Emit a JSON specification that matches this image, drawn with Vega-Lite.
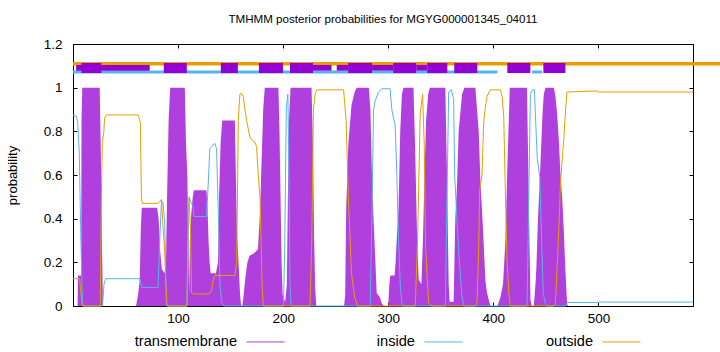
{
  "$schema": "https://vega.github.io/schema/vega-lite/v6.json",
  "width": 620,
  "height": 262,
  "autosize": "none",
  "padding": {"left": 73, "top": 44, "right": 27, "bottom": 46},
  "background": "white",
  "config": {
    "view": {"stroke": "black", "strokeWidth": 1},
    "font": "Liberation Sans",
    "axis": {"grid": false, "domain": false, "tickColor": "black", "tickSize": -4, "labelColor": "black", "labelFont": "Liberation Sans", "labelFontSize": 13.5, "titleFont": "Liberation Sans", "titleFontWeight": "normal", "titleColor": "black", "titleFontSize": 13}
  },
  "title": {"text": "TMHMM posterior probabilities for MGYG000001345_04011", "font": "Liberation Sans", "fontSize": 11.6, "fontWeight": "normal", "color": "black", "offset": 11, "anchor": "middle"},
  "datasets": {
    "tm": [
      {"x":0,"p":0},{"x":4.4,"p":0},{"x":4.7,"p":0.14},{"x":7.8,"p":0.14},{"x":8.1,"p":0.85},{"x":8.8,"p":1.0},{"x":25.4,"p":1.0},{"x":26.5,"p":0.7},{"x":27.5,"p":0.3},{"x":28.5,"p":0},
      {"x":60,"p":0},{"x":61.9,"p":0.05},{"x":63.5,"p":0.12},{"x":64.5,"p":0.35},{"x":65.4,"p":0.45},{"x":80,"p":0.45},{"x":81.5,"p":0.4},{"x":83,"p":0.25},{"x":84.5,"p":0.17},{"x":87,"p":0.15},{"x":88.5,"p":0.2},{"x":89.5,"p":0.5},{"x":91,"p":0.85},{"x":92.5,"p":1.0},{"x":106.4,"p":1.0},{"x":107.5,"p":0.75},{"x":108.8,"p":0.6},{"x":109.8,"p":0.3},{"x":110.5,"p":0.05},{"x":111.2,"p":0.3},{"x":112.5,"p":0.42},{"x":114,"p":0.5},{"x":115,"p":0.53},{"x":127,"p":0.53},{"x":128,"p":0.45},{"x":129,"p":0.3},{"x":130,"p":0.2},{"x":131,"p":0.15},{"x":136,"p":0.15},{"x":138,"p":0.2},{"x":139,"p":0.5},{"x":140.5,"p":0.75},{"x":142,"p":0.85},{"x":154,"p":0.85},{"x":155,"p":0.6},{"x":156,"p":0.35},{"x":157.5,"p":0.2},{"x":159,"p":0.05},{"x":160,"p":0},
      {"x":161,"p":0},{"x":162,"p":0.03},{"x":163,"p":0.08},{"x":164.5,"p":0.15},{"x":166,"p":0.2},{"x":168,"p":0.23},{"x":172,"p":0.24},{"x":176,"p":0.26},{"x":178,"p":0.43},{"x":179.5,"p":0.67},{"x":181,"p":0.9},{"x":182.5,"p":1.0},{"x":195.5,"p":1.0},{"x":196.5,"p":0.8},{"x":197.5,"p":0.5},{"x":198.5,"p":0.2},{"x":199.5,"p":0.05},{"x":202,"p":0.02},{"x":203.5,"p":0.1},{"x":204.5,"p":0.5},{"x":205.5,"p":0.85},{"x":207,"p":1.0},{"x":227,"p":1.0},{"x":228.5,"p":0.7},{"x":229.5,"p":0.3},{"x":230.5,"p":0.08},{"x":231.5,"p":0},
      {"x":258,"p":0},{"x":259,"p":0.05},{"x":260,"p":0.45},{"x":262,"p":0.74},{"x":265,"p":0.92},{"x":268,"p":0.98},{"x":270,"p":1.0},{"x":281.5,"p":1.0},{"x":283,"p":0.9},{"x":284.5,"p":0.6},{"x":286,"p":0.4},{"x":287.5,"p":0.23},{"x":289,"p":0.06},{"x":292,"p":0.04},{"x":294,"p":0.01},{"x":296,"p":0},
      {"x":300,"p":0},{"x":301,"p":0.1},{"x":302,"p":0.14},{"x":306,"p":0.14},{"x":307,"p":0.2},{"x":308,"p":0.3},{"x":309.8,"p":0.45},{"x":311.4,"p":0.8},{"x":313,"p":0.97},{"x":314.5,"p":1.0},{"x":324,"p":1.0},{"x":325.7,"p":0.7},{"x":327.5,"p":0.3},{"x":329,"p":0.12},{"x":331.5,"p":0.1},{"x":333,"p":0.3},{"x":334.5,"p":0.6},{"x":336,"p":0.85},{"x":338,"p":0.97},{"x":339.5,"p":1.0},{"x":354.3,"p":1.0},{"x":355.9,"p":0.6},{"x":357.5,"p":0.1},{"x":358.4,"p":0.02},{"x":362.2,"p":0.02},{"x":363.8,"p":0.4},{"x":365.4,"p":0.55},{"x":367,"p":0.8},{"x":370.2,"p":0.97},{"x":372.4,"p":1.0},{"x":382.9,"p":1.0},{"x":384.5,"p":0.9},{"x":386.1,"p":0.8},{"x":387.6,"p":0.58},{"x":390.2,"p":0.35},{"x":392.4,"p":0.12},{"x":394,"p":0.06},{"x":397.2,"p":0},
      {"x":404,"p":0},{"x":406.7,"p":0.04},{"x":409.2,"p":0.1},{"x":411.5,"p":0.3},{"x":413.1,"p":0.6},{"x":414.7,"p":0.85},{"x":415.6,"p":1.0},{"x":432,"p":1.0},{"x":433.7,"p":0.5},{"x":435.3,"p":0.03},{"x":436.5,"p":0},
      {"x":438.5,"p":0},{"x":440.1,"p":0.1},{"x":441,"p":0.18},{"x":442.3,"p":0.38},{"x":444.2,"p":0.58},{"x":445.5,"p":0.73},{"x":446.8,"p":0.88},{"x":448,"p":0.97},{"x":449.6,"p":1.0},{"x":457.6,"p":1.0},{"x":459.1,"p":0.96},{"x":460.7,"p":0.88},{"x":462.3,"p":0.76},{"x":463.9,"p":0.6},{"x":465.5,"p":0.5},{"x":467,"p":0.35},{"x":468.6,"p":0.16},{"x":470.2,"p":0.01},{"x":471,"p":0},{"x":590,"p":0}
    ],
    "inside": [
      {"x":0,"p":0.875},{"x":3,"p":0.87},{"x":4.5,"p":0.84},{"x":6,"p":0.7},{"x":7.5,"p":0.3},{"x":9,"p":0.02},{"x":10,"p":0},{"x":28,"p":0},{"x":29.5,"p":0.1},{"x":31,"p":0.125},{"x":63.5,"p":0.125},{"x":65.5,"p":0.085},{"x":81,"p":0.085},{"x":82.5,"p":0.3},{"x":84.2,"p":0.48},{"x":85.7,"p":0.475},{"x":87.3,"p":0.38},{"x":88.9,"p":0},
      {"x":108.2,"p":0},{"x":110.5,"p":0.5},{"x":111.8,"p":0.48},{"x":114.3,"p":0.455},{"x":115,"p":0.41},{"x":127,"p":0.41},{"x":128.6,"p":0.55},{"x":130.2,"p":0.72},{"x":131.8,"p":0.73},{"x":135,"p":0.745},{"x":136.6,"p":0.72},{"x":138.2,"p":0.45},{"x":139.8,"p":0.1},{"x":141.4,"p":0.02},{"x":143,"p":0},
      {"x":200.2,"p":0},{"x":201.5,"p":0.27},{"x":203,"p":0.91},{"x":204.5,"p":0.97},{"x":205.5,"p":0.6},{"x":206.5,"p":0.1},{"x":207.5,"p":0},
      {"x":282.8,"p":0},{"x":284.4,"p":0.4},{"x":286,"p":0.9},{"x":287.6,"p":0.94},{"x":290.8,"p":0.98},{"x":294,"p":0.995},{"x":301.8,"p":0.995},{"x":303.4,"p":0.9},{"x":305,"p":0.86},{"x":306.6,"p":0.83},{"x":308.2,"p":0.6},{"x":309.8,"p":0.3},{"x":311.4,"p":0.1},{"x":313,"p":0.01},{"x":314,"p":0},
      {"x":354.3,"p":0},{"x":355.9,"p":0.5},{"x":357.5,"p":0.98},{"x":360,"p":0.99},{"x":362.2,"p":0.95},{"x":363.2,"p":0.6},{"x":364.8,"p":0.45},{"x":367,"p":0.25},{"x":370,"p":0.05},{"x":372,"p":0},
      {"x":432.1,"p":0},{"x":433.7,"p":0.5},{"x":435.3,"p":0.97},{"x":437,"p":0.99},{"x":439.1,"p":0.99},{"x":441.7,"p":0.68},{"x":444.2,"p":0.59},{"x":447.4,"p":0.06},{"x":449.6,"p":0.01},{"x":451,"p":0},
      {"x":469,"p":0},{"x":470.3,"p":0.016},{"x":500,"p":0.016},{"x":501,"p":0.018},{"x":590,"p":0.018}
    ],
    "outside": [
      {"x":0,"p":0.125},{"x":6.3,"p":0.125},{"x":7.5,"p":0.06},{"x":8.8,"p":0},{"x":26,"p":0},{"x":27,"p":0.5},{"x":27.9,"p":0.75},{"x":29.2,"p":0.79},{"x":30.1,"p":0.86},{"x":31.7,"p":0.875},{"x":62,"p":0.875},{"x":64.1,"p":0.84},{"x":65.1,"p":0.5},{"x":66,"p":0.47},{"x":81,"p":0.47},{"x":84.2,"p":0.488},{"x":85.7,"p":0.36},{"x":87.3,"p":0.25},{"x":88.2,"p":0.11},{"x":89.5,"p":0.005},{"x":90.5,"p":0},
      {"x":108.6,"p":0},{"x":109.5,"p":0.49},{"x":110.5,"p":0.49},{"x":111.8,"p":0.35},{"x":112.8,"p":0.06},{"x":114.3,"p":0.055},{"x":129.6,"p":0.055},{"x":131.8,"p":0.07},{"x":133.4,"p":0.12},{"x":135,"p":0.14},{"x":154.1,"p":0.14},{"x":155.7,"p":0.2},{"x":156.5,"p":0.5},{"x":157.3,"p":0.85},{"x":158.8,"p":0.97},{"x":160.4,"p":0.975},{"x":162,"p":0.96},{"x":163.6,"p":0.9},{"x":165.2,"p":0.85},{"x":168.4,"p":0.77},{"x":173.1,"p":0.75},{"x":174.7,"p":0.73},{"x":176.3,"p":0.6},{"x":177.9,"p":0.5},{"x":179,"p":0.3},{"x":180,"p":0.08},{"x":181.1,"p":0},
      {"x":225.6,"p":0},{"x":227.2,"p":0.3},{"x":228.8,"p":0.9},{"x":230.4,"p":0.97},{"x":232,"p":0.99},{"x":257.5,"p":0.99},{"x":259.9,"p":0.85},{"x":262,"p":0.5},{"x":265,"p":0.15},{"x":268,"p":0.04},{"x":271,"p":0},
      {"x":325.7,"p":0},{"x":327.9,"p":0.3},{"x":330.4,"p":0.88},{"x":332.7,"p":0.97},{"x":334.3,"p":0.73},{"x":335.5,"p":0.27},{"x":338.4,"p":0.015},{"x":341,"p":0},
      {"x":382.9,"p":0},{"x":384.5,"p":0.02},{"x":386.1,"p":0.27},{"x":387,"p":0.53},{"x":389.2,"p":0.6},{"x":390.8,"p":0.84},{"x":392.4,"p":0.91},{"x":394,"p":0.96},{"x":397.2,"p":0.99},{"x":406.7,"p":0.99},{"x":408.3,"p":0.96},{"x":409.9,"p":0.87},{"x":411.5,"p":0.5},{"x":413.1,"p":0.2},{"x":414.7,"p":0.06},{"x":416.2,"p":0},
      {"x":457.6,"p":0},{"x":459,"p":0.01},{"x":460.7,"p":0.18},{"x":462.3,"p":0.35},{"x":463.9,"p":0.56},{"x":465.5,"p":0.67},{"x":467,"p":0.76},{"x":468.5,"p":0.88},{"x":470,"p":0.98},{"x":498,"p":0.985},{"x":500,"p":0.98},{"x":590,"p":0.98}
    ],
    "outBand": [{"start": 0, "end": 617}],
    "inBand": [{"start": 0, "end": 403.8}, {"start": 436.9, "end": 446.4}],
    "tmLinks": [{"start": 3, "end": 73}, {"start": 228.4, "end": 246}, {"start": 251, "end": 261.8}, {"start": 284.6, "end": 304.7}, {"start": 326.6, "end": 337.1}],
    "tmBoxes": [{"start": 8, "end": 27}, {"start": 86.4, "end": 108.3}, {"start": 140.7, "end": 156.9}, {"start": 176.9, "end": 199.8}, {"start": 206.5, "end": 228.4}, {"start": 261.8, "end": 284.6}, {"start": 304.7, "end": 326.6}, {"start": 337.1, "end": 356.2}, {"start": 362.8, "end": 384.7}, {"start": 413.3, "end": 435.2}, {"start": 447.6, "end": 468.6}]
  },
  "resolve": {"axis": {"x": "independent", "y": "independent"}},
  "layer": [
    {
      "data": {"name": "tm"},
      "mark": {"type": "area", "interpolate": "linear"},
      "encoding": {
        "x": {"field": "x", "type": "quantitative", "scale": {"domain": [0, 590], "nice": false, "zero": false},
              "axis": {"orient": "bottom", "values": [100, 200, 300, 400, 500], "format": "d", "title": null, "labelPadding": 9}},
        "y": {"field": "p", "type": "quantitative", "scale": {"domain": [0, 1.2], "nice": false, "zero": false},
              "axis": {"orient": "left", "values": [0, 0.2, 0.4, 0.6, 0.8, 1, 1.2], "format": "~g", "title": "probability", "labelPadding": 15, "titlePadding": 24}},
        "color": {"datum": "transmembrane", "type": "nominal",
                  "scale": {"domain": ["transmembrane", "inside", "outside"], "range": ["#b040dd", "#56B4E9", "#E69F00"]},
                  "legend": {"orient": "none", "legendX": 173, "legendY": 278, "direction": "horizontal", "columns": 3, "title": null,
                             "symbolType": "stroke", "symbolSize": 1444, "symbolStrokeWidth": 1,
                             "labelAlign": "right", "labelOffset": -48, "labelFont": "Liberation Sans", "labelFontSize": 14.6, "labelColor": "black",
                             "columnPadding": 80, "gridAlign": "all",
                             "encode": {"symbols": {"update": {"stroke": {"scale": "color", "field": "value"}, "fill": {"value": "transparent"}, "strokeWidth": {"value": 1}, "opacity": {"value": 1}}}}}}
      }
    },
    {
      "data": {"name": "inside"},
      "mark": {"type": "line", "strokeWidth": 1},
      "encoding": {
        "x": {"field": "x", "type": "quantitative", "axis": null},
        "y": {"field": "p", "type": "quantitative", "axis": null},
        "color": {"datum": "inside", "type": "nominal"}
      }
    },
    {
      "data": {"name": "outside"},
      "mark": {"type": "line", "strokeWidth": 1},
      "encoding": {
        "x": {"field": "x", "type": "quantitative", "axis": null},
        "y": {"field": "p", "type": "quantitative", "axis": null},
        "color": {"datum": "outside", "type": "nominal"}
      }
    },
    {
      "data": {"name": "outBand"},
      "mark": {"type": "rule", "color": "#E69F00", "strokeWidth": 3.5, "clip": false},
      "encoding": {
        "x": {"field": "start", "type": "quantitative", "axis": {"orient": "top", "labels": false, "values": [100, 200, 300, 400, 500], "title": null}},
        "x2": {"field": "end"},
        "y": {"datum": 1.11, "type": "quantitative", "axis": {"orient": "right", "labels": false, "values": [0, 0.2, 0.4, 0.6, 0.8, 1, 1.2], "title": null}}
      }
    },
    {
      "data": {"name": "inBand"},
      "mark": {"type": "rule", "color": "#56B4E9", "strokeWidth": 3},
      "encoding": {
        "x": {"field": "start", "type": "quantitative", "axis": null},
        "x2": {"field": "end"},
        "y": {"datum": 1.072, "type": "quantitative", "axis": null}
      }
    },
    {
      "data": {"name": "tmLinks"},
      "mark": {"type": "rect", "color": "#9400D3"},
      "encoding": {
        "x": {"field": "start", "type": "quantitative", "axis": null},
        "x2": {"field": "end"},
        "y": {"datum": 1.104, "type": "quantitative", "axis": null},
        "y2": {"datum": 1.078}
      }
    },
    {
      "data": {"name": "tmBoxes"},
      "mark": {"type": "rect", "color": "#9400D3"},
      "encoding": {
        "x": {"field": "start", "type": "quantitative", "axis": null},
        "x2": {"field": "end"},
        "y": {"datum": 1.113, "type": "quantitative", "axis": null},
        "y2": {"datum": 1.067}
      }
    }
  ]
}
